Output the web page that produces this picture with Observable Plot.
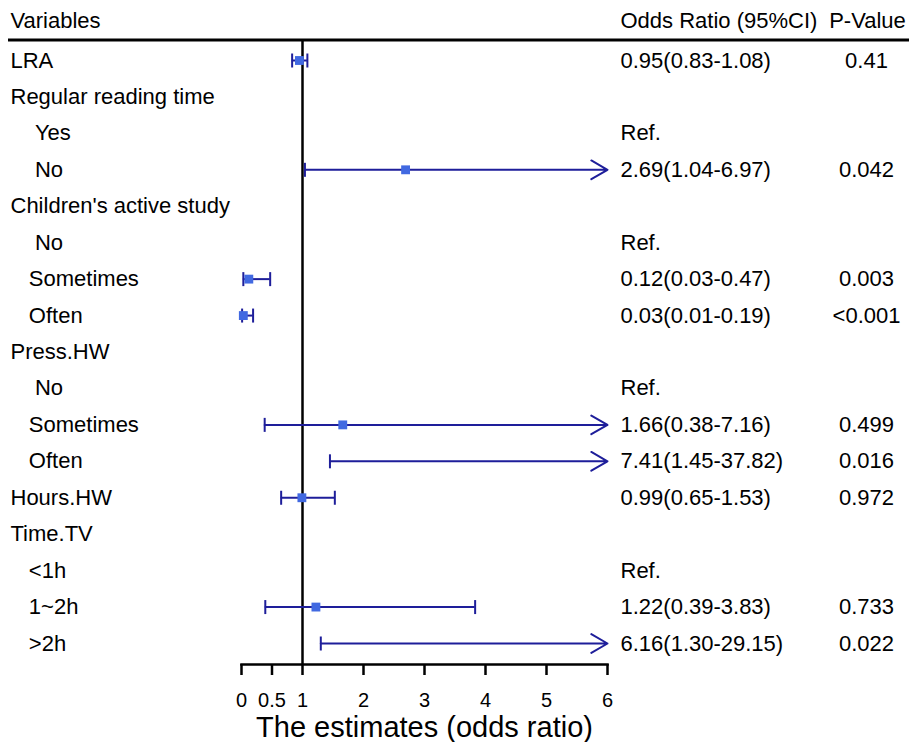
<!DOCTYPE html>
<html>
<head>
<meta charset="utf-8">
<script src="https://cdn.jsdelivr.net/npm/d3@7"></script>
<script src="https://cdn.jsdelivr.net/npm/@observablehq/plot@0.6"></script>
<style>
  html, body { margin: 0; padding: 0; background: #fff; }
</style>
</head>
<body>
<div id="chart"></div>
<script>
const NB = "\u00A0";
const labels = [
  "LRA", "Regular reading time", NB.repeat(4) + "Yes", NB.repeat(4) + "No",
  "Children's active study", NB.repeat(4) + "No", NB.repeat(3) + "Sometimes", NB.repeat(3) + "Often",
  "Press.HW", NB.repeat(4) + "No", NB.repeat(3) + "Sometimes", NB.repeat(3) + "Often",
  "Hours.HW", "Time.TV", NB.repeat(3) + "<1h", NB.repeat(3) + "1~2h", NB.repeat(3) + ">2h"
];
const isRef = [false, false, true, false, false, true, false, false, false, true, false, false, false, false, true, false, false];
const est = [0.95, null, null, 2.69, null, null, 0.12, 0.03, null, null, 1.66, 7.41, 0.99, null, null, 1.22, 6.16];
const lower = [0.83, null, null, 1.04, null, null, 0.03, 0.01, null, null, 0.38, 1.45, 0.65, null, null, 0.39, 1.30];
const upper = [1.08, null, null, 6.97, null, null, 0.47, 0.19, null, null, 7.16, 37.82, 1.53, null, null, 3.83, 29.15];
const pValues = ["0.41", "", "", "0.042", "", "", "0.003", "<0.001", "", "", "0.499", "0.016", "0.972", "", "", "0.733", "0.022"];
const headers = ["Variables", "Odds Ratio (95%CI)", "P-Value"];
const xTicks = [0, 0.5, 1, 2, 3, 4, 5, 6];
const xTitle = "The estimates (odds ratio)";

const xMax = 6;
const rows = labels.map((label, k) => ({
  i: k + 1,
  label,
  est: est[k], lo: lower[k], hi: upper[k],
  orText: isRef[k] ? "Ref." : (est[k] == null ? "" : `${est[k].toFixed(2)}(${lower[k].toFixed(2)}-${upper[k].toFixed(2)})`),
  p: pValues[k]
}));
const header = [{i: 0, a: headers[0], b: headers[1], c: headers[2]}];
const bars = rows.filter(d => d.est != null);

const navy = "#1e1e9a";
const blue = "#4169E1";
const fontSize = 22;

const vbar = {
  draw(context, size) {
    const h = Math.sqrt(size / Math.PI);
    context.moveTo(0, -h);
    context.lineTo(0, h);
  }
};

const headerLine = (index, scales, values, dims) => {
  const ns = "http://www.w3.org/2000/svg";
  const l = document.createElementNS(ns, "line");
  l.setAttribute("x1", 8);
  l.setAttribute("x2", dims.width);
  l.setAttribute("y1", dims.marginTop);
  l.setAttribute("y2", dims.marginTop);
  l.setAttribute("stroke", "black");
  l.setAttribute("stroke-width", 3);
  return l;
};

const chart = Plot.plot({
  width: 909,
  height: 742,
  marginLeft: 241,
  marginRight: 302,
  marginTop: 40,
  marginBottom: 78,
  style: {fontFamily: "'Liberation Sans', Arial, sans-serif", background: "white"},
  x: {domain: [0, xMax]},
  y: {domain: [1, 17], range: [60, 643], axis: null},
  marks: [
    headerLine,
    Plot.ruleX([1], {stroke: "black", strokeWidth: 2.5}),
    Plot.frame({anchor: "bottom", stroke: "black", strokeWidth: 2.5}),
    Plot.axisX({ticks: xTicks, tickFormat: () => "", tickSize: 11, strokeWidth: 2.5, label: null, color: "black"}),
    Plot.text(xTicks, {x: d => d, text: d => String(d), frameAnchor: "bottom", lineAnchor: "middle", dy: 36, fontSize: 20, fill: "black"}),
    Plot.text([xTitle], {frameAnchor: "bottom", lineAnchor: "middle", dy: 63, fontSize: 29, fill: "black"}),
    // header
    Plot.text(header, {y: "i", text: "a", frameAnchor: "left", textAnchor: "start", dx: -231, dy: -3, fontSize, fill: "black"}),
    Plot.text(header, {y: "i", text: "b", frameAnchor: "right", textAnchor: "start", dx: 13, dy: -3, fontSize, fill: "black"}),
    Plot.text(header, {y: "i", text: "c", frameAnchor: "right", textAnchor: "middle", dx: 260, dy: -3, fontSize, fill: "black"}),
    // columns
    Plot.text(rows, {y: "i", text: "label", frameAnchor: "left", textAnchor: "start", dx: -231, fontSize, fill: "black"}),
    Plot.text(rows, {y: "i", text: "orText", frameAnchor: "right", textAnchor: "start", dx: 13, fontSize, fill: "black"}),
    Plot.text(rows, {y: "i", text: "p", frameAnchor: "right", textAnchor: "middle", dx: 259, fontSize, fill: "black"}),
    // CIs
    Plot.ruleY(bars.filter(d => d.hi <= xMax), {y: "i", x1: "lo", x2: "hi", stroke: navy, strokeWidth: 2}),
    Plot.arrow(bars.filter(d => d.hi > xMax), {x1: "lo", x2: () => xMax, y1: "i", y2: "i", stroke: navy, strokeWidth: 2, headLength: 14, headAngle: 60}),
    Plot.dot(bars, {x: "lo", y: "i", symbol: vbar, r: 7, stroke: navy, strokeWidth: 2}),
    Plot.dot(bars.filter(d => d.hi <= xMax), {x: "hi", y: "i", symbol: vbar, r: 7, stroke: navy, strokeWidth: 2}),
    Plot.dot(bars.filter(d => d.est <= xMax), {x: "est", y: "i", symbol: "square", r: 5, fill: blue})
  ]
});
document.getElementById("chart").appendChild(chart);
</script>
</body>
</html>
